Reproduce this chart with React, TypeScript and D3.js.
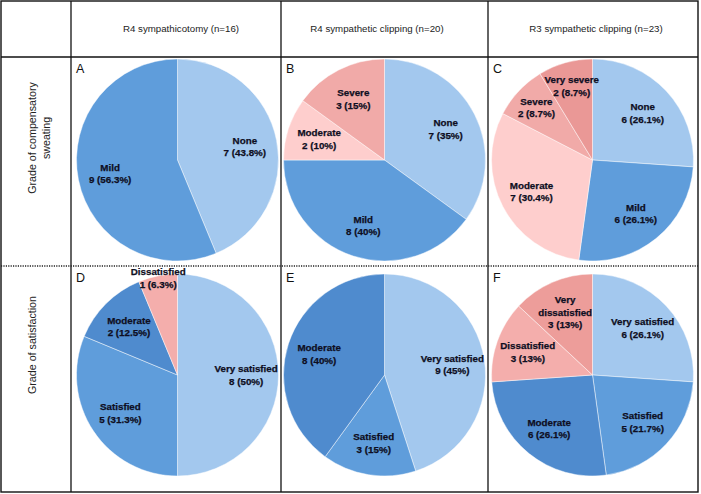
import React from "react";
import * as d3 from "d3";

// ---------- data ----------
const columnTitles = [
  "R4 sympathicotomy (n=16)",
  "R4 sympathetic clipping (n=20)",
  "R3 sympathetic clipping (n=23)",
];
const rowTitleLines = [["Grade of compensatory", "sweating"], ["Grade of satisfaction"]];
const panelLetters = ["A", "B", "C", "D", "E", "F"];

const sweatingCategories = [["None"], ["Mild"], ["Moderate"], ["Severe"], ["Very severe"]];
const satisfactionCategories = [
  ["Very satisfied"],
  ["Satisfied"],
  ["Moderate"],
  ["Dissatisfied"],
  ["Very", "dissatisfied"],
];

const sweatingR4Sympathicotomy = [7, 9, 0, 0, 0];
const sweatingR4Clipping = [7, 8, 2, 3, 0];
const sweatingR3Clipping = [6, 6, 7, 2, 2];
const satisfactionR4Sympathicotomy = [8, 5, 2, 1, 0];
const satisfactionR4Clipping = [9, 3, 8, 0, 0];
const satisfactionR3Clipping = [6, 5, 6, 3, 3];

// ---------- styles ----------
const sweatingColors = ["#9cc0e4", "#5b96d2", "#f3c5c4", "#e7a3a1", "#e09290"];
const satisfactionColors = ["#9cc0e4", "#5b96d2", "#4c85c5", "#eaa7a5", "#e39694"];

const W = 701;
const H = 494;
const xLines = [1, 71, 281, 488, 698];
const yTop = 1;
const yHead = 57;
const yMid = 266;
const yBot = 492;
const pieCx = [177.5, 384.5, 592.5];
const pieCy = [160, 375];
const headerX = [181, 377, 596];
const R = 101;

const panels = [
  { values: sweatingR4Sympathicotomy, cats: sweatingCategories, colors: sweatingColors },
  { values: sweatingR4Clipping, cats: sweatingCategories, colors: sweatingColors },
  { values: sweatingR3Clipping, cats: sweatingCategories, colors: sweatingColors },
  { values: satisfactionR4Sympathicotomy, cats: satisfactionCategories, colors: satisfactionColors },
  { values: satisfactionR4Clipping, cats: satisfactionCategories, colors: satisfactionColors },
  { values: satisfactionR3Clipping, cats: satisfactionCategories, colors: satisfactionColors },
];

const fmtPct = (v: number) => v.toFixed(1).replace(/\.0$/, "") + "%";

function Pie({ idx }: { idx: number }) {
  const p = panels[idx];
  const col = idx % 3;
  const row = Math.floor(idx / 3);
  const cx = pieCx[col];
  const cy = pieCy[row];
  const total = d3.sum(p.values);
  const arcs = d3.pie<number>().sort(null).value((d) => d)(p.values);
  const arc = d3.arc<d3.PieArcDatum<number>>().innerRadius(0).outerRadius(R);
  const lh = 12.5;
  return (
    <g>
      <defs>
        {p.colors.map((c, i) => {
          const base = d3.color(c)!;
          return (
            <radialGradient
              key={i}
              id={`g${idx}-${i}`}
              gradientUnits="userSpaceOnUse"
              cx={cx}
              cy={cy}
              r={R}
              fx={cx - 10}
              fy={cy - 15}
            >
              <stop offset="0%" stopColor={base.brighter(0.06).formatHex()} />
              <stop offset="70%" stopColor={c} />
              <stop offset="95%" stopColor={base.darker(0.08).formatHex()} />
              <stop offset="100%" stopColor={base.brighter(0.12).formatHex()} />
            </radialGradient>
          );
        })}
      </defs>
      <g transform={`translate(${cx},${cy})`}>
        {arcs.map((a, i) =>
          a.value > 0 ? (
            <path
              key={i}
              d={arc(a) || ""}
              fill={`url(#g${idx}-${i})`}
              stroke="rgba(255,255,255,0.5)"
              strokeWidth={0.9}
            />
          ) : null
        )}
      </g>
      {arcs.map((a, i) => {
        if (a.value <= 0) return null;
        const frac = a.value / total;
        const mid = (a.startAngle + a.endAngle) / 2;
        const rr = frac < 0.07 ? R * 0.98 : frac < 0.09 ? R * 0.76 : R * 0.68;
        const lx = cx + rr * Math.sin(mid);
        const ly = cy - rr * Math.cos(mid);
        const lines = [...p.cats[i], `${a.value} (${fmtPct(frac * 100)})`];
        const y0 = ly - ((lines.length - 1) * lh) / 2 + 3.5;
        return (
          <text
            key={`t${i}`}
            x={lx}
            textAnchor="middle"
            fontFamily="'Liberation Sans', Arial, sans-serif"
            fontWeight="bold"
            fontSize={9.8}
            fill="#0e0e22"
            stroke="#0e0e22"
            strokeWidth={0.25}
          >
            {lines.map((s, k) => (
              <tspan key={k} x={lx} y={y0 + k * lh}>
                {s}
              </tspan>
            ))}
          </text>
        );
      })}
      <text
        x={xLines[col + 1] + 5}
        y={(row === 0 ? yHead : yMid) + 16}
        fontFamily="'Liberation Sans', Arial, sans-serif"
        fontSize={12.5}
        fill="#111"
      >
        {panelLetters[idx]}
      </text>
    </g>
  );
}

export default function App() {
  const font = "'Liberation Sans', Arial, sans-serif";
  const rowCenters = [138, 345];
  return (
    <svg
      width={W}
      height={H}
      style={{ position: "absolute", left: 0, top: 0, background: "#fff" }}
    >
      <rect x={0} y={0} width={W} height={H} fill="#fff" />
      {panels.map((_, i) => (
        <Pie key={i} idx={i} />
      ))}
      {/* table lines */}
      <rect
        x={xLines[0]}
        y={yTop}
        width={xLines[4] - xLines[0]}
        height={yBot - yTop}
        fill="none"
        stroke="#111"
        strokeWidth={1.4}
      />
      {xLines.slice(1, 4).map((x, i) => (
        <line key={i} x1={x} x2={x} y1={yTop} y2={yBot} stroke="#111" strokeWidth={1.3} />
      ))}
      <line x1={xLines[0]} x2={xLines[4]} y1={yHead} y2={yHead} stroke="#111" strokeWidth={1.3} />
      <line
        x1={xLines[0]}
        x2={xLines[4]}
        y1={yMid}
        y2={yMid}
        stroke="#222"
        strokeWidth={1.3}
        strokeDasharray="1.2 1.2"
      />
      {columnTitles.map((t, i) => (
        <text key={i} x={headerX[i]} y={32} textAnchor="middle" fontFamily={font} fontSize={9.7} fill="#222">
          {t}
        </text>
      ))}
      {rowTitleLines.map((lines, r) => (
        <text
          key={r}
          transform={`translate(0,${rowCenters[r]}) rotate(-90)`}
          textAnchor="middle"
          fontFamily={font}
          fontSize={10.7}
          fill="#222"
        >
          {lines.map((s, k) => (
            <tspan key={k} x={0} y={36 + k * 14}>
              {s}
            </tspan>
          ))}
        </text>
      ))}
    </svg>
  );
}
